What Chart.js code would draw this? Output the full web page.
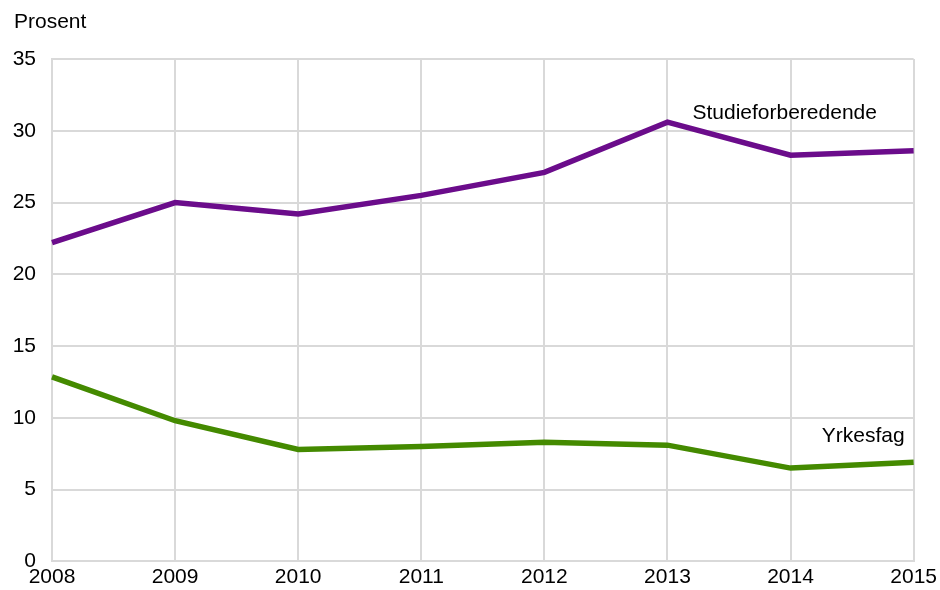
<!DOCTYPE html>
<html>
<head>
<meta charset="utf-8">
<script src="https://cdn.jsdelivr.net/npm/chart.js@4/dist/chart.umd.min.js"></script>
<style>
  html, body { margin: 0; padding: 0; background: #fff; }
  #wrap { width: 940px; height: 590px; }
</style>
</head>
<body>
<div id="wrap"><canvas id="Andel"></canvas></div>
<script>
var years = ["2008", "2009", "2010", "2011", "2012", "2013", "2014", "2015"];
var studieforberedende = [22.2, 25.0, 24.2, 25.5, 27.1, 30.6, 28.3, 28.6];
var yrkesfag = [12.85, 9.8, 7.8, 8.0, 8.3, 8.1, 6.5, 6.9];
var yTicks = [0, 5, 10, 15, 20, 25, 30, 35];

Chart.defaults.font.family = "'Liberation Sans', Arial, sans-serif";
Chart.defaults.font.size = 21;
Chart.defaults.color = "#000";

// series names and the unit text drawn straight onto the canvas
var labelPlugin = {
  id: "seriesLabels",
  afterDraw: function (chart) {
    var c = chart.ctx;
    var x = chart.scales.x;
    var y = chart.scales.y;
    c.save();
    c.font = "21px 'Liberation Sans', Arial, sans-serif";
    c.fillStyle = "#000";
    c.textBaseline = "middle";

    c.textAlign = "left";
    c.fillText("Prosent", chart.chartArea.left - 38, chart.chartArea.top - 37);

    c.fillText("Studieforberedende", x.getPixelForValue(5) + 25, y.getPixelForValue(studieforberedende[5]) - 9);

    c.textAlign = "right";
    c.fillText("Yrkesfag", x.getPixelForValue(7) - 9, y.getPixelForValue(yrkesfag[7]) - 26);
    c.restore();
  },
};

var ctx = document.getElementById("Andel").getContext("2d");
var myChart = new Chart(ctx, {
  type: "line",
  data: {
    labels: years,
    datasets: [
      {
        label: "Studieforberedende",
        data: studieforberedende,
        borderColor: "#6b0c8b",
        backgroundColor: "#6b0c8b",
        borderWidth: 5.5,
        pointRadius: 0,
        tension: 0,
      },
      {
        label: "Yrkesfag",
        data: yrkesfag,
        borderColor: "#448a00",
        backgroundColor: "#448a00",
        borderWidth: 5.5,
        pointRadius: 0,
        tension: 0,
      },
    ],
  },
  options: {
    responsive: true,
    maintainAspectRatio: false,
    animation: false,
    layout: {
      padding: { top: 59, right: 26, left: 0, bottom: 0 },
    },
    scales: {
      x: {
        offset: false,
        grid: { color: "#d9d9d9", lineWidth: 2, drawTicks: false },
        border: { color: "#d9d9d9", width: 2 },
        ticks: { padding: 3, maxRotation: 0, autoSkip: false },
        afterFit: function (axis) { axis.height = 27; },
      },
      y: {
        min: 0,
        max: 35,
        grid: { color: "#d9d9d9", lineWidth: 2, drawTicks: false },
        border: { color: "#d9d9d9", width: 2 },
        afterBuildTicks: function (axis) {
          axis.ticks = yTicks.map(function (v) { return { value: v }; });
        },
        ticks: { padding: 16 },
        afterFit: function (axis) { axis.width = 52; },
      },
    },
    plugins: {
      legend: { display: false },
      tooltip: { enabled: false },
    },
  },
  plugins: [labelPlugin],
});
</script>
</body>
</html>
